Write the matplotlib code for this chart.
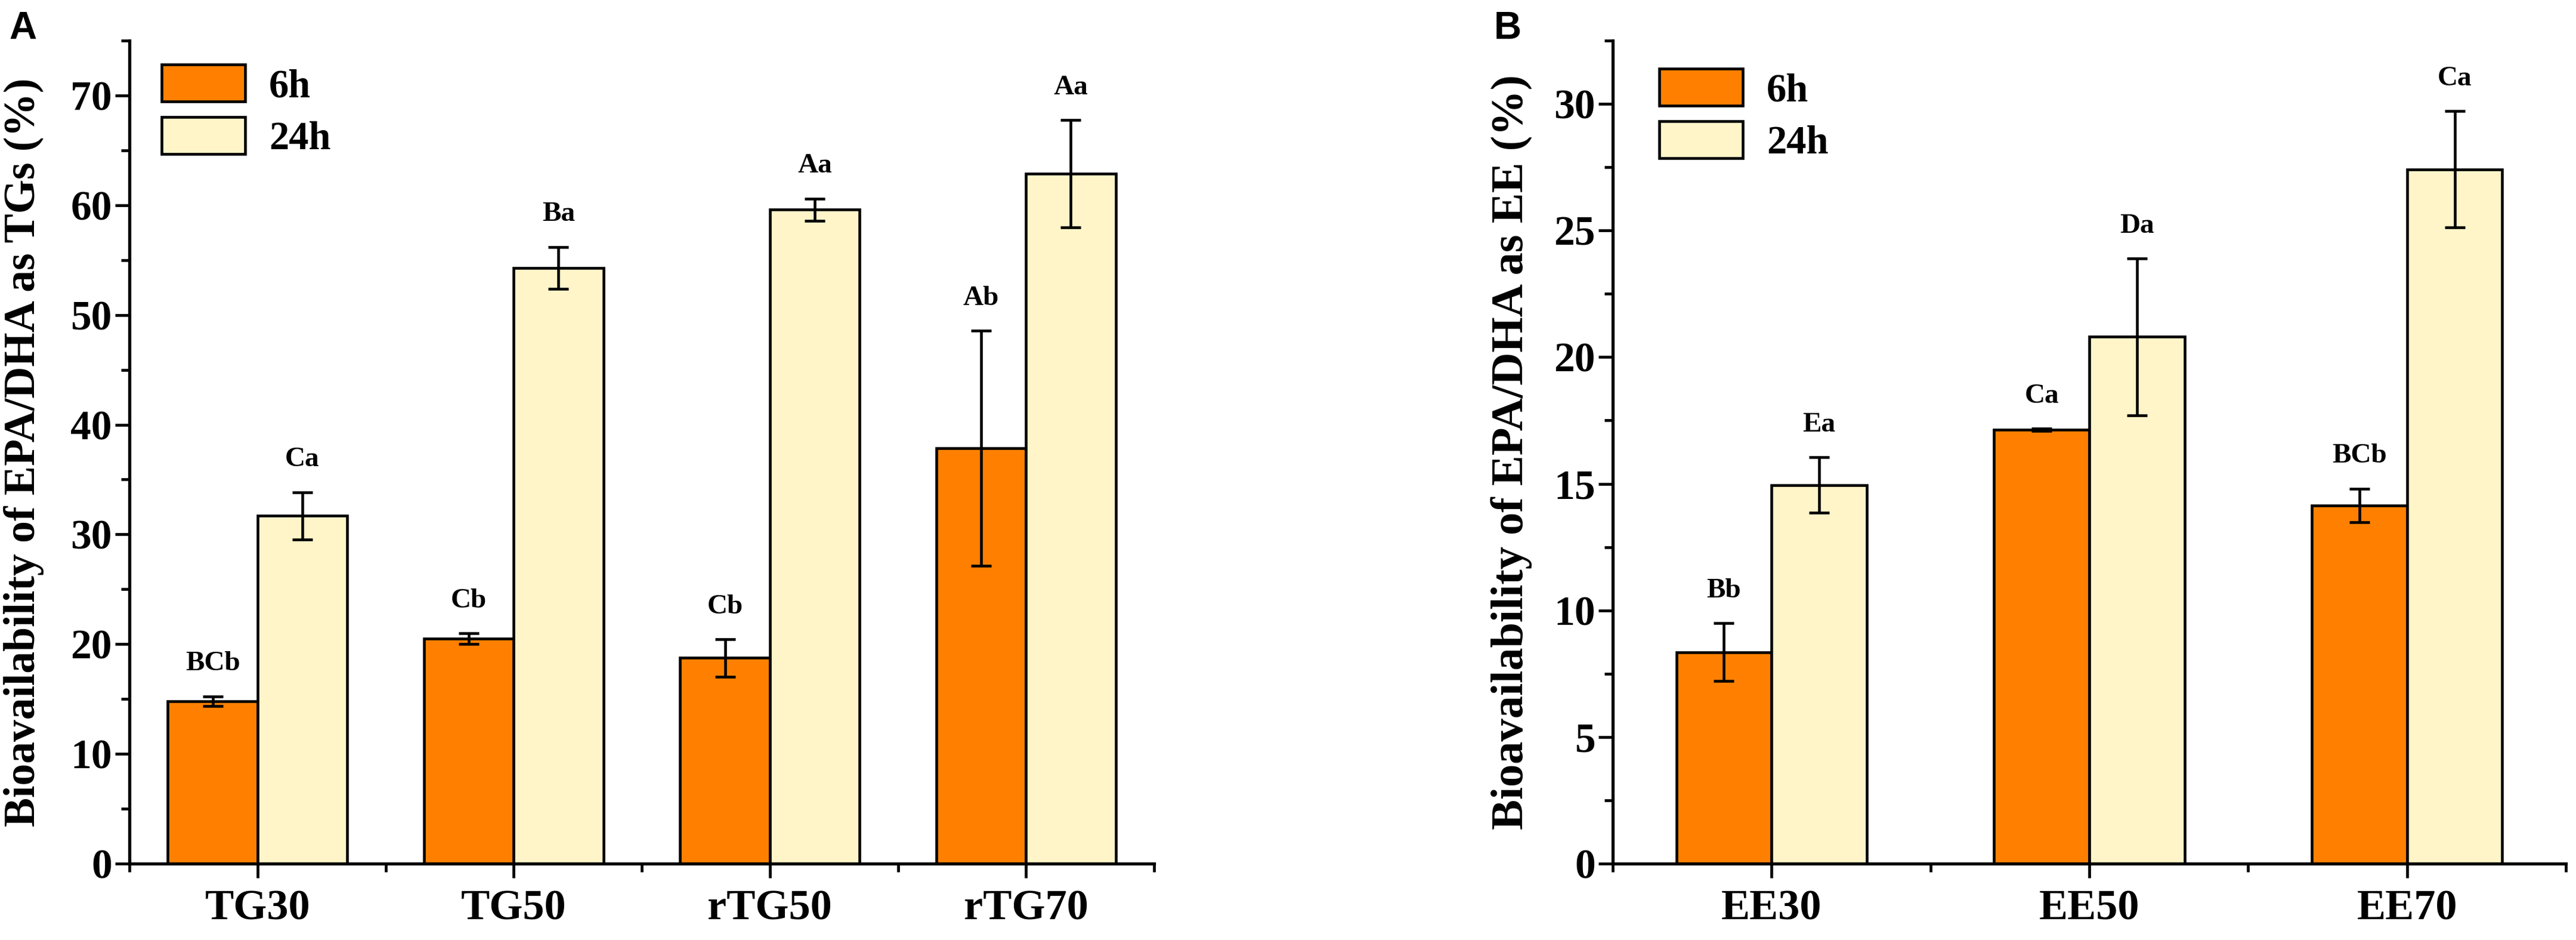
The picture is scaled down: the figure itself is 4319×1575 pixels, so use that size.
import numpy as np
import matplotlib.pyplot as plt
from matplotlib.ticker import MultipleLocator, FixedLocator

# Panel A data: EPA/DHA bioavailability as TGs
tg_groups = ['TG30', 'TG50', 'rTG50', 'rTG70']
tg_6h = [14.8, 20.5, 18.75, 37.85]
tg_6h_err = [0.45, 0.5, 1.7, 10.7]
tg_24h = [31.7, 54.3, 59.6, 62.85]
tg_24h_err = [2.15, 1.9, 1.0, 4.9]
tg_6h_lbl = ['BCb', 'Cb', 'Cb', 'Ab']
tg_24h_lbl = ['Ca', 'Ba', 'Aa', 'Aa']

# Panel B data: EPA/DHA bioavailability as EE
ee_groups = ['EE30', 'EE50', 'EE70']
ee_6h = [8.35, 17.13, 14.14]
ee_6h_err = [1.15, 0.05, 0.67]
ee_24h = [14.95, 20.8, 27.42]
ee_24h_err = [1.1, 3.1, 2.3]
ee_6h_lbl = ['Bb', 'Ca', 'BCb']
ee_24h_lbl = ['Ea', 'Da', 'Ca']

C6 = '#FF8000'
C24 = '#FFF5C8'
SERIF = 'Liberation Serif'

plt.rcParams['font.family'] = SERIF
plt.rcParams['font.weight'] = 'bold'

W, H = 4319, 1575
fig = plt.figure(figsize=(W / 100, H / 100), dpi=100)


def panel(rect, groups, v6, e6, v24, e24, l6, l24, width, ymax, ymaj,
          ylabel, ylab_size, ylab_x, leg_off):
    ax = fig.add_axes(rect)
    x = np.arange(1, len(groups) + 1)
    err_kw = dict(ecolor='black', elinewidth=3.3, capsize=12.5, capthick=3.3)
    ax.bar(x - width / 2, v6, width, yerr=e6, color=C6, edgecolor='black',
           linewidth=3.3, label='6h', error_kw=err_kw, zorder=2)
    ax.bar(x + width / 2, v24, width, yerr=e24, color=C24, edgecolor='black',
           linewidth=3.3, label='24h', error_kw=err_kw, zorder=2)

    # significance letters above error bars
    for xs, vals, errs, lbls in [(x - width / 2, v6, e6, l6), (x + width / 2, v24, e24, l24)]:
        for xi, v, e, t in zip(xs, vals, errs, lbls):
            ax.annotate(t, xy=(xi, v + e), xytext=(0, 24), textcoords='offset points',
                        ha='center', va='bottom', fontsize=34, fontweight='bold')

    ax.set_xlim(0.5, len(groups) + 0.5)
    ax.set_ylim(0, ymax)
    ax.set_xticks(x)
    ax.set_xticklabels(groups, fontsize=52, fontweight='bold')
    ax.xaxis.set_minor_locator(FixedLocator(np.arange(0.5, len(groups) + 1, 1.0)))
    ax.yaxis.set_major_locator(MultipleLocator(ymaj))
    ax.yaxis.set_minor_locator(MultipleLocator(ymaj / 2))
    for lab in ax.get_yticklabels():
        lab.set_fontsize(50)
        lab.set_fontweight('bold')

    for s in ['top', 'right']:
        ax.spines[s].set_visible(False)
    for s in ['left', 'bottom']:
        ax.spines[s].set_linewidth(3.8)
    ax.tick_params(axis='both', which='major', direction='out', length=17, width=3.4)
    ax.tick_params(axis='both', which='minor', direction='out', length=10, width=3.4)
    ax.tick_params(axis='x', which='major', pad=14)
    ax.tick_params(axis='y', which='major', pad=4)

    ax.set_ylabel(ylabel, fontsize=ylab_size, fontweight='bold')
    ax.yaxis.set_label_coords(ylab_x, 0.5)

    leg = ax.legend(loc='upper left', bbox_to_anchor=leg_off, frameon=False,
                    prop={'family': SERIF, 'weight': 'bold', 'size': 48},
                    handlelength=2.1, handleheight=1.05, labelspacing=0.3,
                    handletextpad=0.6, borderaxespad=0)
    for p in leg.get_patches():
        p.set_linewidth(3.3)
    return ax


bot = (H - 1447) / H
hgt = (1447 - 68) / H

panel([217 / W, bot, (1935 - 217) / W, hgt], tg_groups, tg_6h, tg_6h_err, tg_24h, tg_24h_err,
      tg_6h_lbl, tg_24h_lbl, 0.35, 75, 10, 'Bioavailability of EPA/DHA as TGs (%)',
      53, -0.083, (0.016, 0.99))
panel([2704 / W, bot, (4302 - 2704) / W, hgt], ee_groups, ee_6h, ee_6h_err, ee_24h, ee_24h_err,
      ee_6h_lbl, ee_24h_lbl, 0.3, 32.5, 5, 'Bioavailability of EPA/DHA as EE (%)',
      55, -0.084, (0.032, 0.985))

fig.text(15 / W, 1 - 18 / H, 'A', ha='left', va='top', fontsize=46, fontweight='bold',
         family='Liberation Sans')
fig.text(2505 / W, 1 - 18 / H, 'B', ha='left', va='top', fontsize=46, fontweight='bold',
         family='Liberation Sans')

fig.savefig('out.png', dpi=100)
